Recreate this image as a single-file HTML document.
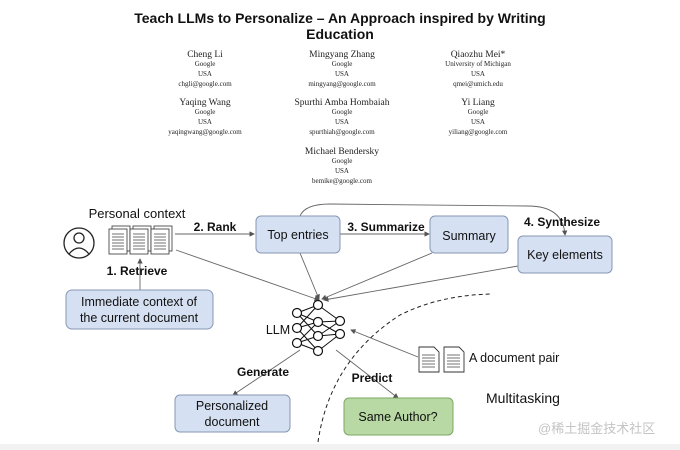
<!DOCTYPE html>
<html><head><meta charset="utf-8"><style>
body{margin:0;background:#fff}
svg{display:block}
.t{font-family:"Liberation Sans",sans-serif}
.s{font-family:"Liberation Serif",serif;text-anchor:middle;fill:#222}
</style></head><body>
<svg width="680" height="450" viewBox="0 0 680 450" xmlns="http://www.w3.org/2000/svg">
<defs>
<marker id="a" markerWidth="6" markerHeight="6" refX="5" refY="3" orient="auto"><path d="M0,0 L6,3 L0,6 z" fill="#555"/></marker>
</defs>
<rect x="0" y="444" width="680" height="6" fill="#f2f2f2"/>
<text x="340" y="23" class="t" font-size="14" font-weight="bold" text-anchor="middle" fill="#111">Teach LLMs to Personalize – An Approach inspired by Writing</text>
<text x="340" y="39" class="t" font-size="14" font-weight="bold" text-anchor="middle" fill="#111">Education</text>
<g class="s" font-size="7">
<text x="205" y="57" font-size="9.5">Cheng Li</text><text x="205" y="66">Google</text><text x="205" y="76">USA</text><text x="205" y="86">chgli@google.com</text>
<text x="342" y="57" font-size="9.5">Mingyang Zhang</text><text x="342" y="66">Google</text><text x="342" y="76">USA</text><text x="342" y="86">mingyang@google.com</text>
<text x="478" y="57" font-size="9.5">Qiaozhu Mei*</text><text x="478" y="66">University of Michigan</text><text x="478" y="76">USA</text><text x="478" y="86">qmei@umich.edu</text>
<text x="205" y="105" font-size="9.5">Yaqing Wang</text><text x="205" y="114">Google</text><text x="205" y="124">USA</text><text x="205" y="134">yaqingwang@google.com</text>
<text x="342" y="105" font-size="9.5">Spurthi Amba Hombaiah</text><text x="342" y="114">Google</text><text x="342" y="124">USA</text><text x="342" y="134">spurthiah@google.com</text>
<text x="478" y="105" font-size="9.5">Yi Liang</text><text x="478" y="114">Google</text><text x="478" y="124">USA</text><text x="478" y="134">yiliang@google.com</text>
<text x="342" y="154" font-size="9.5">Michael Bendersky</text><text x="342" y="163">Google</text><text x="342" y="173">USA</text><text x="342" y="183">bemike@google.com</text>
</g>
<g class="t" fill="#111">
<text x="137" y="218" font-size="13" text-anchor="middle">Personal context</text>
<!-- person -->
<circle cx="79" cy="243" r="15" fill="none" stroke="#222" stroke-width="1.3"/>
<circle cx="79" cy="238" r="5" fill="none" stroke="#222" stroke-width="1.3"/>
<path d="M69,254 Q79,242 89,254" fill="none" stroke="#222" stroke-width="1.3"/>
<!-- docs -->
<g fill="#fff" stroke="#333" stroke-width="0.8">
<rect x="112" y="226" width="18" height="25"/><rect x="109" y="229" width="18" height="25"/>
<rect x="133" y="226" width="18" height="25"/><rect x="130" y="229" width="18" height="25"/>
<rect x="154" y="226" width="18" height="25"/><rect x="151" y="229" width="18" height="25"/>
</g>
<g stroke="#444" stroke-width="0.8">
<path d="M112,234h12M112,237h12M112,240h12M112,243h12M112,246h12M112,249h12"/>
<path d="M133,234h12M133,237h12M133,240h12M133,243h12M133,246h12M133,249h12"/>
<path d="M154,234h12M154,237h12M154,240h12M154,243h12M154,246h12M154,249h12"/>
</g>
<g stroke="#666" stroke-width="0.9" fill="none">
<line x1="175" y1="234" x2="254" y2="234" marker-end="url(#a)"/>
<line x1="340" y1="234" x2="429" y2="234" marker-end="url(#a)"/>
<path d="M300,216 Q305,204 330,204 L528,206 Q563,206 565,235" marker-end="url(#a)"/>
<line x1="140" y1="290" x2="140" y2="259" marker-end="url(#a)"/>
<line x1="176" y1="250" x2="319" y2="300" marker-end="url(#a)"/>
<line x1="300" y1="253" x2="319" y2="299" marker-end="url(#a)"/>
<line x1="432" y1="253" x2="322" y2="299" marker-end="url(#a)"/>
<line x1="518" y1="266" x2="324" y2="300" marker-end="url(#a)"/>
<line x1="300" y1="350" x2="233" y2="395" marker-end="url(#a)"/>
<line x1="336" y1="350" x2="398" y2="398" marker-end="url(#a)"/>
<line x1="418" y1="357" x2="351" y2="330" marker-end="url(#a)"/>
</g>
<path d="M318,442 Q330,360 400,315 Q440,295 492,294" fill="none" stroke="#222" stroke-width="1" stroke-dasharray="4,3"/>
<text x="215" y="231" font-size="12" font-weight="bold" text-anchor="middle">2. Rank</text>
<text x="386" y="231" font-size="12" font-weight="bold" text-anchor="middle">3. Summarize</text>
<text x="562" y="226" font-size="12" font-weight="bold" text-anchor="middle">4. Synthesize</text>
<text x="137" y="275" font-size="12" font-weight="bold" text-anchor="middle">1. Retrieve</text>
<text x="263" y="376" font-size="12" font-weight="bold" text-anchor="middle">Generate</text>
<text x="372" y="382" font-size="12" font-weight="bold" text-anchor="middle">Predict</text>
<g fill="#d5e0f2" stroke="#8797b4" stroke-width="1">
<rect x="256" y="216" width="84" height="37" rx="5"/>
<rect x="430" y="216" width="78" height="37" rx="5"/>
<rect x="518" y="236" width="94" height="37" rx="5"/>
<rect x="66" y="290" width="147" height="39" rx="6"/>
<rect x="175" y="395" width="115" height="37" rx="5"/>
</g>
<rect x="344" y="398" width="109" height="37" rx="5" fill="#b8d9a3" stroke="#7ba866"/>
<text x="298" y="239" font-size="12.5" text-anchor="middle">Top entries</text>
<text x="469" y="240" font-size="12.5" text-anchor="middle">Summary</text>
<text x="565" y="259" font-size="12.5" text-anchor="middle">Key elements</text>
<text x="139" y="306" font-size="12.5" text-anchor="middle">Immediate context of</text>
<text x="139" y="322" font-size="12.5" text-anchor="middle">the current document</text>
<text x="232" y="410" font-size="12.5" text-anchor="middle">Personalized</text>
<text x="232" y="426" font-size="12.5" text-anchor="middle">document</text>
<text x="398" y="421" font-size="12.5" text-anchor="middle">Same Author?</text>
<text x="278" y="334" font-size="12.5" text-anchor="middle">LLM</text>
<text x="469" y="362" font-size="12.5">A document pair</text>
<text x="486" y="403" font-size="14">Multitasking</text>
</g>
<!-- network -->
<g stroke="#111" stroke-width="1" fill="none">
<path d="M297,313L318,305M297,313L318,322M297,313L318,336M297,328L318,305M297,328L318,322M297,328L318,351M297,343L318,322M297,343L318,336M297,343L318,351M318,305L340,321M318,322L340,321M318,322L340,334M318,336L340,321M318,336L340,334M318,351L340,334"/>
</g>
<g fill="#fff" stroke="#111" stroke-width="1.2">
<circle cx="297" cy="313" r="4.5"/><circle cx="297" cy="328" r="4.5"/><circle cx="297" cy="343" r="4.5"/>
<circle cx="318" cy="305" r="4.5"/><circle cx="318" cy="322" r="4.5"/><circle cx="318" cy="336" r="4.5"/><circle cx="318" cy="351" r="4.5"/>
<circle cx="340" cy="321" r="4.5"/><circle cx="340" cy="334" r="4.5"/>
</g>
<!-- doc pair -->
<g fill="#fff" stroke="#333" stroke-width="0.9">
<path d="M419,347h15l5,5v20h-20z"/><path d="M444,347h15l5,5v20h-20z"/>
</g>
<g stroke="#444" stroke-width="0.8">
<path d="M422,355h13M422,358h13M422,361h13M422,364h13M422,367h13"/>
<path d="M447,355h13M447,358h13M447,361h13M447,364h13M447,367h13"/>
</g>
<text x="538" y="433" font-size="13" fill="#c4c4c4" font-family="'Liberation Sans','Noto Sans CJK SC',sans-serif">@稀土掘金技术社区</text>
</svg>
</body></html>
